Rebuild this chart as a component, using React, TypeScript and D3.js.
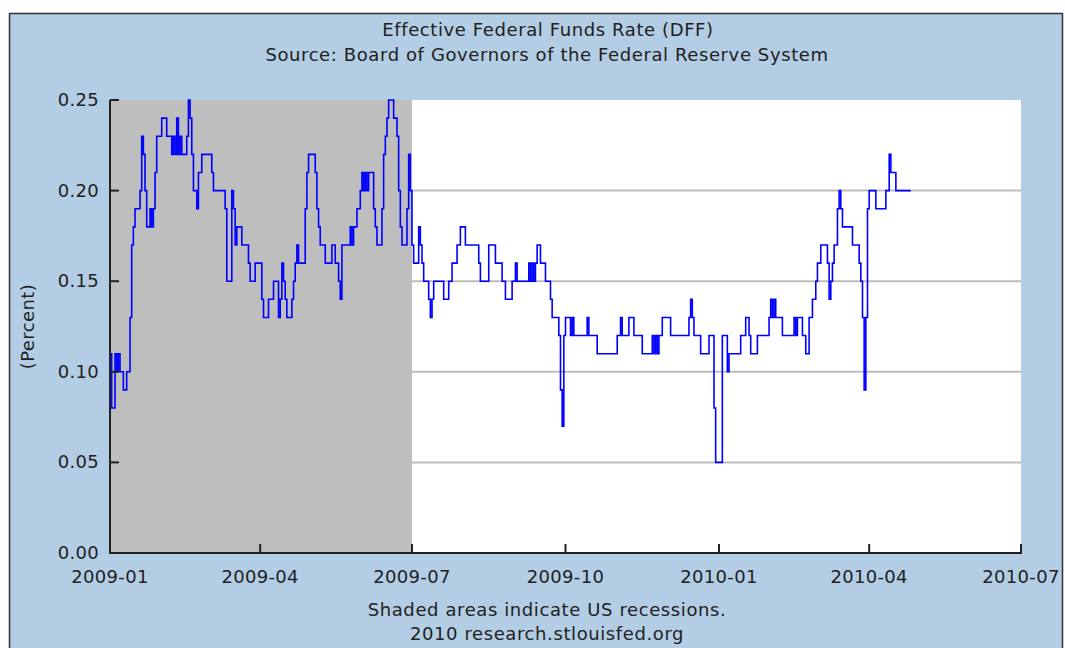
import React from "react";
import * as d3 from "d3";

// Effective Federal Funds Rate (DFF), daily, read off the chart as change points
// day = days after 2009-01-01, rate in percent (step series)
const obsDay = [
  0, 1, 3, 4, 5, 6, 8, 10, 12, 13, 14, 15, 18, 19, 20, 21, 22, 24, 25, 26, 27, 28, 31, 34, 37, 38, 39, 40, 41, 42,
  43, 46, 47, 48, 49, 50, 52, 53, 55, 61, 62, 69, 70, 73, 74, 75, 76, 79, 83, 84, 87, 91, 92, 95, 98, 101, 102, 103,
  104, 105, 106, 109, 110, 111, 112, 113, 117, 118, 119, 123, 124, 125, 126, 129, 133, 135, 137, 138, 139, 144, 145,
  146, 148, 150, 151, 152, 153, 154, 155, 158, 159, 160, 163, 164, 165, 166, 167, 170, 172, 173, 174, 175, 178, 179,
  180, 181, 182, 185, 186, 187, 188, 191, 192, 193, 194, 200, 203, 205, 208, 210, 213, 221, 222, 227, 231, 235, 237,
  241, 243, 244, 251, 252, 253, 254, 255, 256, 258, 261, 264, 265, 269, 270, 271, 272, 273, 276, 277, 278, 286, 287,
  292, 304, 306, 307, 311, 314, 319, 325, 326, 327, 328, 329, 331, 336, 347, 348, 349, 350, 354, 359, 362, 363, 367,
  370, 371, 378, 381, 383, 384, 388, 395, 396, 397, 398, 399, 403, 410, 411, 412, 415, 417, 419, 421, 423, 424, 426,
  430, 431, 432, 433, 434, 436, 437, 438, 439, 445, 449, 450, 451, 452, 453, 454, 455, 459, 465, 467, 468, 471, 480,
];
const obsRate = [
  0.11, 0.08, 0.11, 0.1, 0.11, 0.1, 0.09, 0.1, 0.13, 0.17, 0.18, 0.19, 0.2, 0.23, 0.22, 0.2, 0.18, 0.19, 0.18, 0.19,
  0.21, 0.23, 0.24, 0.23, 0.22, 0.23, 0.22, 0.24, 0.22, 0.23, 0.22, 0.23, 0.25, 0.24, 0.22, 0.2, 0.19, 0.21, 0.22,
  0.21, 0.2, 0.19, 0.15, 0.2, 0.19, 0.17, 0.18, 0.17, 0.16, 0.15, 0.16, 0.14, 0.13, 0.14, 0.15, 0.13, 0.14, 0.16,
  0.15, 0.14, 0.13, 0.14, 0.15, 0.16, 0.17, 0.16, 0.19, 0.21, 0.22, 0.21, 0.19, 0.18, 0.17, 0.16, 0.17, 0.16, 0.15,
  0.14, 0.17, 0.18, 0.17, 0.18, 0.19, 0.2, 0.21, 0.2, 0.21, 0.2, 0.21, 0.19, 0.18, 0.17, 0.19, 0.22, 0.23, 0.24,
  0.25, 0.24, 0.23, 0.2, 0.18, 0.17, 0.19, 0.22, 0.2, 0.17, 0.16, 0.18, 0.17, 0.16, 0.15, 0.14, 0.13, 0.14, 0.15,
  0.14, 0.15, 0.16, 0.17, 0.18, 0.17, 0.16, 0.15, 0.17, 0.16, 0.15, 0.14, 0.15, 0.16, 0.15, 0.16, 0.15, 0.16, 0.15,
  0.16, 0.17, 0.16, 0.15, 0.14, 0.13, 0.12, 0.09, 0.07, 0.12, 0.13, 0.12, 0.13, 0.12, 0.13, 0.12, 0.11, 0.12, 0.13,
  0.12, 0.13, 0.12, 0.11, 0.12, 0.11, 0.12, 0.11, 0.12, 0.13, 0.12, 0.13, 0.14, 0.13, 0.12, 0.11, 0.12, 0.08, 0.05,
  0.12, 0.1, 0.11, 0.12, 0.13, 0.12, 0.11, 0.12, 0.13, 0.14, 0.13, 0.14, 0.13, 0.12, 0.13, 0.12, 0.13, 0.12, 0.11,
  0.13, 0.14, 0.15, 0.16, 0.17, 0.16, 0.14, 0.15, 0.16, 0.17, 0.19, 0.2, 0.19, 0.18, 0.17, 0.16, 0.15, 0.13, 0.09,
  0.13, 0.19, 0.2, 0.19, 0.2, 0.22, 0.21, 0.2, 0.2,
];

const yTicks = [0, 0.05, 0.1, 0.15, 0.2, 0.25];
const xTickLabels = ["2009-01", "2009-04", "2009-07", "2009-10", "2010-01", "2010-04", "2010-07"];
const recessionStart = "2009-01-01";
const recessionEnd = "2009-07-01";

const W = 1065;
const H = 648;
const margin = { left: 110, right: 44, top: 100, bottom: 95 };
const FONT = "'DejaVu Sans', Verdana, sans-serif";
const TEXT = "#222";

const parse = d3.timeParse("%Y-%m-%d");
const start = parse("2009-01-01") as Date;

export default function App() {
  const data = obsDay.map((d, i) => ({ date: d3.timeDay.offset(start, d), value: obsRate[i] }));

  const x = d3
    .scaleTime()
    .domain([start, parse("2010-07-01") as Date])
    .range([margin.left, W - margin.right]);
  const y = d3.scaleLinear().domain([0, 0.25]).range([H - margin.bottom, margin.top]);

  const line = d3
    .line<{ date: Date; value: number }>()
    .x((d) => x(d.date))
    .y((d) => y(d.value))
    .curve(d3.curveStepAfter);

  const xTicks = xTickLabels.map((s) => parse(s + "-01") as Date);
  const [x0, x1] = x.range();
  const [yb, yt] = y.range();

  // centred text lines (titles and footer)
  const label = (txt: string, cx: number, cy: number) => (
    <text x={cx} y={cy} textAnchor="middle" fontFamily={FONT} fontSize={18} letterSpacing={0.6} fill={TEXT}>
      {txt}
    </text>
  );

  return (
    <svg
      width={W}
      height={H}
      style={{ position: "absolute", left: 0, top: 0, display: "block", background: "#fff" }}
    >
      {/* page frame */}
      <rect x={9.5} y={13.5} width={1053} height={H} fill="#b3cde4" stroke="#333" strokeWidth={1.5} />

      {label("Effective Federal Funds Rate (DFF)", 548, 36)}
      {label("Source: Board of Governors of the Federal Reserve System", 547, 61)}

      {/* plot area */}
      <rect x={x0} y={yt} width={x1 - x0} height={yb - yt} fill="#fff" />
      {yTicks
        .filter((t) => t > 0 && t < 0.25)
        .map((t) => (
          <line key={t} x1={x0} x2={x1} y1={y(t)} y2={y(t)} stroke="#bdbdbd" strokeWidth={2} />
        ))}
      <rect
        x={x(parse(recessionStart) as Date)}
        y={yt}
        width={x(parse(recessionEnd) as Date) - x(parse(recessionStart) as Date)}
        height={yb - yt}
        fill="#bebebe"
      />

      <path d={line(data) ?? ""} fill="none" stroke="#0000ff" strokeWidth={1.6} />

      {/* axes, ticks point inward */}
      <g stroke="#222" strokeWidth={2}>
        <line x1={x0} x2={x0} y1={yt} y2={yb + 1} />
        <line x1={x0 - 1} x2={x1 + 1} y1={yb} y2={yb} />
        {yTicks.map((t) => (
          <line key={t} x1={x0} x2={x0 + 9} y1={y(t)} y2={y(t)} />
        ))}
        {xTicks.map((t, i) => (
          <line key={i} x1={x(t)} x2={x(t)} y1={yb} y2={yb - 9} />
        ))}
      </g>
      {yTicks.map((t) => (
        <text
          key={t}
          x={x0 - 11}
          y={y(t) + 6}
          textAnchor="end"
          fontFamily={FONT}
          fontSize={18}
          letterSpacing={0.3}
          fill={TEXT}
        >
          {d3.format(".2f")(t)}
        </text>
      ))}
      {xTicks.map((t, i) => (
        <text
          key={i}
          x={x(t)}
          y={yb + 30}
          textAnchor="middle"
          fontFamily={FONT}
          fontSize={18}
          letterSpacing={0.3}
          fill={TEXT}
        >
          {xTickLabels[i]}
        </text>
      ))}

      <text
        transform={`translate(34, ${(yt + yb) / 2}) rotate(-90)`}
        textAnchor="middle"
        fontFamily={FONT}
        fontSize={18}
        letterSpacing={0.4}
        fill={TEXT}
      >
        (Percent)
      </text>

      {label("Shaded areas indicate US recessions.", 547, 616)}
      {label("2010 research.stlouisfed.org", 547, 640)}
    </svg>
  );
}
